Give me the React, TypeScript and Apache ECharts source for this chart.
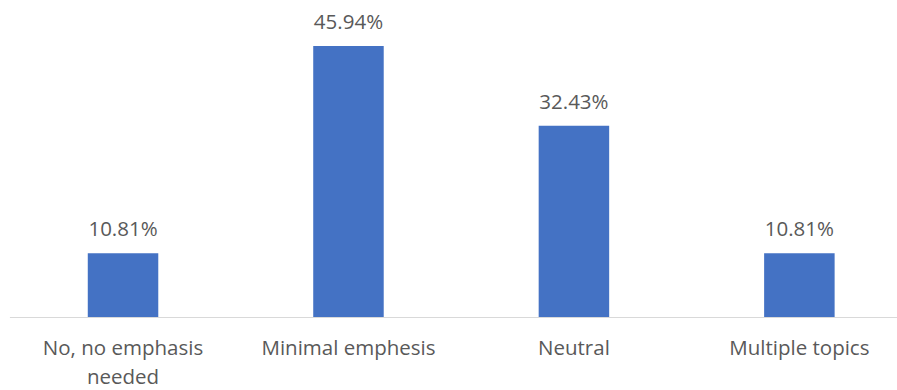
import React, { useEffect, useRef } from "react";
import * as echarts from "echarts";

const categories = ["No, no emphasis\nneeded", "Minimal emphesis", "Neutral", "Multiple topics"];
const values = [10.81, 45.94, 32.43, 10.81];
const yMin = 0;
const yMax = 50;

export default function App() {
  const ref = useRef<HTMLDivElement>(null);
  useEffect(() => {
    if (!ref.current) return;
    const chart = echarts.init(ref.current, null, { renderer: "svg" });
    chart.setOption({
      animation: false,
      backgroundColor: "#ffffff",
      textStyle: { fontFamily: "Open Sans" },
      grid: { left: 10.3, right: 2.9, top: 22, bottom: 72.7, containLabel: false },
      xAxis: {
        type: "category",
        data: categories,
        axisLine: { show: true, lineStyle: { color: "#D9D9D9", width: 1 } },
        axisTick: { show: false },
        axisLabel: {
          color: "#595959",
          fontSize: 20.5,
          lineHeight: 28.5,
          margin: 16,
          fontFamily: "Open Sans",
          interval: 0,
        },
      },
      yAxis: {
        type: "value",
        min: yMin,
        max: yMax,
        show: false,
        splitLine: { show: false },
      },
      series: [
        {
          type: "bar",
          data: values,
          barWidth: 70.5,
          itemStyle: { color: "#4472C4" },
          label: {
            show: true,
            position: "top",
            distance: 15,
            color: "#595959",
            fontSize: 20.5,
            lineHeight: 20,
            fontFamily: "Open Sans",
            formatter: (p: any) => p.value.toFixed(2) + "%",
          },
        },
      ],
    });
    return () => chart.dispose();
  }, []);
  return (
    <div style={{ position: "fixed", left: 0, top: 0, width: 897, height: 390, overflow: "hidden", background: "#fff" }}>
      <div ref={ref} style={{ width: 915, height: 390 }} />
    </div>
  );
}
